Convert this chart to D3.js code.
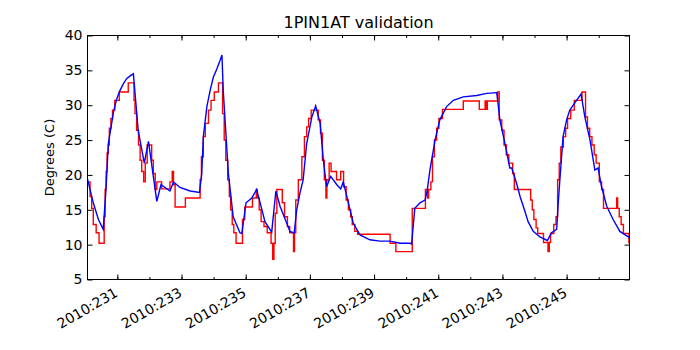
<!DOCTYPE html>
<html>
<head>
<meta charset="utf-8">
<script src="https://cdn.jsdelivr.net/npm/d3@7"></script>
<style>
  body { margin: 0; background: #fff; }
  text { font-family: "DejaVu Sans", sans-serif; }
</style>
</head>
<body>
<div id="chart"></div>
<script>
// model prediction (blue), day of year 2010
const modelDays = [230.07, 230.25, 230.41, 230.56, 230.64, 230.72, 230.88, 230.98, 231.08, 231.19,
  231.29, 231.40, 231.50, 231.65, 231.84, 231.97, 232.23, 232.36, 232.64, 232.75,
  232.95, 233.27, 233.56, 233.63, 233.68, 233.79, 233.89, 233.99, 234.10, 234.20,
  234.26, 234.30, 234.46, 234.61, 234.82, 234.88, 235.01, 235.19, 235.34, 235.45,
  235.60, 235.81, 235.94, 236.07, 236.38, 236.51, 236.59, 236.69, 236.79, 236.90,
  237.06, 237.18, 237.32, 237.42, 237.52, 237.65, 237.84, 237.96, 238.04, 238.20,
  238.35, 238.56, 238.87, 239.18, 239.50, 239.81, 240.12, 240.17, 240.27, 240.43,
  240.59, 240.66, 240.74, 240.83, 240.90, 241.05, 241.26, 241.47, 241.78, 242.20,
  242.51, 242.82, 242.84, 242.92, 243.08, 243.23, 243.29, 243.44, 243.55, 243.70,
  243.80, 243.96, 244.17, 244.40, 244.53, 244.69, 244.74, 244.79, 244.89, 245.00,
  245.10, 245.31, 245.45, 245.57, 245.73, 245.88, 245.98, 246.09, 246.25, 246.45,
  246.66, 246.96];
const modelTemps = [19.4, 16.0, 13.6, 12.2, 17.5, 24.5, 29.0, 30.9, 32.1, 33.1,
  33.8, 34.2, 34.5, 26.4, 21.7, 24.8, 16.2, 18.6, 17.7, 19.0,
  18.2, 17.7, 17.5, 20.2, 25.5, 29.8, 32.1, 34.0, 35.2, 36.4,
  37.2, 32.1, 20.2, 14.0, 11.7, 11.6, 16.0, 16.7, 17.9, 16.0,
  13.3, 11.8, 17.7, 15.5, 11.9, 11.7, 15.0, 17.4, 19.3, 24.5,
  28.3, 29.9, 27.4, 22.1, 18.3, 19.8, 18.6, 18.0, 19.0, 16.0,
  13.1, 11.4, 10.7, 10.5, 10.5, 10.2, 10.2, 10.1, 15.2, 16.0,
  16.4, 17.9, 20.7, 23.1, 25.0, 27.9, 29.8, 30.7, 31.2, 31.4,
  31.7, 31.8, 31.2, 27.9, 24.5, 21.0, 21.0, 18.8, 16.9, 14.8,
  13.3, 11.9, 11.1, 10.6, 11.7, 12.2, 16.0, 19.3, 25.5, 27.9,
  29.3, 30.7, 31.6, 28.3, 25.0, 20.7, 21.0, 18.3, 15.5, 13.6,
  11.9, 11.0];

// telemetry (red), quantized steps: value holds from its day until the next one
const telemDays = [230.07, 230.15, 230.20, 230.25, 230.34, 230.43, 230.59, 230.62, 230.65, 230.68,
  230.72, 230.75, 230.80, 230.85, 230.92, 231.06, 231.34, 231.52, 231.55, 231.60,
  231.66, 231.71, 231.76, 231.82, 231.87, 231.93, 232.07, 232.12, 232.18, 232.23,
  232.38, 232.64, 232.71, 232.75, 232.80, 233.12, 233.58, 233.62, 233.68, 233.74,
  233.84, 233.92, 234.02, 234.15, 234.28, 234.33, 234.38, 234.44, 234.49, 234.53,
  234.58, 234.63, 234.70, 234.90, 234.97, 235.21, 235.33, 235.36, 235.42, 235.48,
  235.57, 235.67, 235.79, 235.84, 235.88, 235.92, 235.97, 236.14, 236.21, 236.30,
  236.37, 236.49, 236.52, 236.56, 236.64, 236.75, 236.83, 236.90, 236.96, 237.04,
  237.26, 237.33, 237.39, 237.45, 237.50, 237.53, 237.60, 237.66, 237.83, 237.96,
  238.05, 238.13, 238.20, 238.27, 238.32, 238.40, 238.49, 239.50, 239.68, 240.19,
  240.60, 240.67, 240.70, 240.77, 240.82, 240.88, 240.95, 241.02, 241.13, 241.78,
  242.28, 242.46, 242.50, 242.53, 242.85, 242.90, 242.98, 243.05, 243.12, 243.20,
  243.32, 243.37, 243.88, 243.93, 243.98, 244.05, 244.10, 244.28, 244.42, 244.46,
  244.50, 244.60, 244.67, 244.72, 244.77, 244.82, 244.90, 244.97, 245.03, 245.13,
  245.24, 245.48, 245.59, 245.65, 245.72, 245.79, 245.86, 245.92, 246.02, 246.09,
  246.15, 246.56, 246.59, 246.64, 246.70, 246.77, 246.94, 246.96];
const telemTemps = [19.0, 16.9, 15.2, 12.9, 11.7, 10.2, 14.0, 17.9, 20.5, 23.1,
  24.3, 26.7, 28.1, 29.3, 30.7, 31.9, 33.2, 30.7, 28.8, 26.4,
  24.3, 22.1, 20.5, 19.0, 21.7, 24.3, 22.1, 20.2, 17.9, 19.0,
  18.0, 19.0, 20.5, 18.6, 15.4, 16.7, 19.3, 22.6, 25.5, 27.4,
  29.3, 30.7, 31.9, 33.2, 28.8, 25.0, 22.1, 19.3, 16.9, 15.0,
  12.9, 11.7, 10.2, 13.6, 15.4, 16.7, 17.9, 16.7, 15.0, 13.3,
  12.6, 11.7, 10.2, 7.9, 10.2, 14.5, 17.9, 16.0, 14.0, 12.6,
  11.7, 9.0, 11.7, 16.4, 19.3, 22.6, 25.5, 26.9, 28.1, 29.3,
  27.9, 26.0, 22.1, 19.3, 16.7, 19.3, 21.7, 20.5, 19.3, 20.5,
  18.3, 16.4, 15.0, 14.0, 12.9, 11.9, 11.5, 10.2, 9.0, 15.2,
  17.9, 16.7, 17.9, 19.0, 22.6, 25.0, 26.7, 28.1, 29.4, 30.6,
  29.4, 30.6, 29.4, 30.6, 31.9, 27.9, 26.4, 24.3, 22.9, 21.7,
  20.2, 17.9, 16.4, 15.0, 13.6, 12.4, 11.6, 10.3, 9.0, 10.3,
  11.6, 12.9, 14.0, 19.3, 21.7, 24.0, 25.5, 26.7, 28.1, 29.3,
  30.7, 31.9, 28.3, 26.7, 25.5, 24.3, 22.9, 21.7, 19.0, 17.9,
  15.2, 16.7, 15.2, 14.0, 12.9, 11.6, 10.3, 10.3];

const majorDays = [231, 233, 235, 237, 239, 241, 243, 245];
const minorDays = d3.range(231, 247);
const yTicks = [5, 10, 15, 20, 25, 30, 35, 40];
const xDomain = [230.07, 246.96];
const yDomain = [5, 40];

const W = 700, H = 350;
const margin = {top: 35.5, right: 70.5, bottom: 70.5, left: 87.5};
const w = W - margin.left - margin.right;
const h = H - margin.top - margin.bottom;

const svg = d3.select("#chart").append("svg")
  .attr("width", W).attr("height", H);

const g = svg.append("g")
  .attr("transform", "translate(" + margin.left + "," + margin.top + ")");

const x = d3.scaleLinear().domain(xDomain).range([0, w]);
const y = d3.scaleLinear().domain(yDomain).range([h, 0]);

g.append("clipPath").attr("id", "clip")
  .append("rect").attr("width", w).attr("height", h);

const telem = telemDays.map((d, i) => [d, telemTemps[i]]);
const model = modelDays.map((d, i) => [d, modelTemps[i]]);

const plot = g.append("g").attr("clip-path", "url(#clip)");

plot.append("path")
  .datum(telem)
  .attr("fill", "none")
  .attr("stroke", "#ff0000")
  .attr("stroke-width", 1.4)
  .attr("d", d3.line().x(d => x(d[0])).y(d => y(d[1])).curve(d3.curveStepAfter));

plot.append("path")
  .datum(model)
  .attr("fill", "none")
  .attr("stroke", "#0000ff")
  .attr("stroke-width", 1.4)
  .attr("d", d3.line().x(d => x(d[0])).y(d => y(d[1])));

// minor ticks, top and bottom
function styleAxis(sel) {
  sel.select(".domain").remove();
  sel.selectAll(".tick line").attr("stroke", "#000");
}

g.append("g").attr("transform", "translate(0," + h + ")")
  .call(d3.axisBottom(x).tickValues(minorDays).tickSizeInner(-2.5).tickSizeOuter(0).tickFormat(""))
  .call(styleAxis);
g.append("g")
  .call(d3.axisTop(x).tickValues(minorDays).tickSizeInner(-2.5).tickSizeOuter(0).tickFormat(""))
  .call(styleAxis);

// major x ticks
const xAxis = g.append("g").attr("transform", "translate(0," + h + ")")
  .call(d3.axisBottom(x).tickValues(majorDays).tickSizeInner(-5).tickSizeOuter(0)
    .tickFormat(d => "2010:" + d))
  .call(styleAxis);
xAxis.selectAll(".tick text")
  .attr("font-size", 14)
  .attr("font-family", "DejaVu Sans")
  .attr("fill", "#000")
  .attr("text-anchor", "end")
  .attr("y", 0).attr("dy", 0)
  .attr("transform", "translate(1,16) rotate(-30)");

g.append("g")
  .call(d3.axisTop(x).tickValues(majorDays).tickSizeInner(-5).tickSizeOuter(0).tickFormat(""))
  .call(styleAxis);

// y axes
const yAxis = g.append("g")
  .call(d3.axisLeft(y).tickValues(yTicks).tickSizeInner(-5).tickSizeOuter(0).tickPadding(5))
  .call(styleAxis);
yAxis.selectAll(".tick text")
  .attr("font-size", 14)
  .attr("font-family", "DejaVu Sans")
  .attr("fill", "#000")
  .attr("x", -5);

g.append("g").attr("transform", "translate(" + w + ",0)")
  .call(d3.axisRight(y).tickValues(yTicks).tickSizeInner(-5).tickSizeOuter(0).tickFormat(""))
  .call(styleAxis);

// frame
g.append("rect")
  .attr("width", w).attr("height", h)
  .attr("fill", "none")
  .attr("stroke", "#000")
  .attr("stroke-width", 1);

// title and label
svg.append("text")
  .attr("x", margin.left + w / 2)
  .attr("y", 28)
  .attr("text-anchor", "middle")
  .attr("font-size", 16)
  .text("1PIN1AT validation");

svg.append("text")
  .attr("transform", "translate(54," + (margin.top + h / 2) + ") rotate(-90)")
  .attr("text-anchor", "middle")
  .attr("font-size", 13)
  .text("Degrees (C)");
</script>
</body>
</html>
